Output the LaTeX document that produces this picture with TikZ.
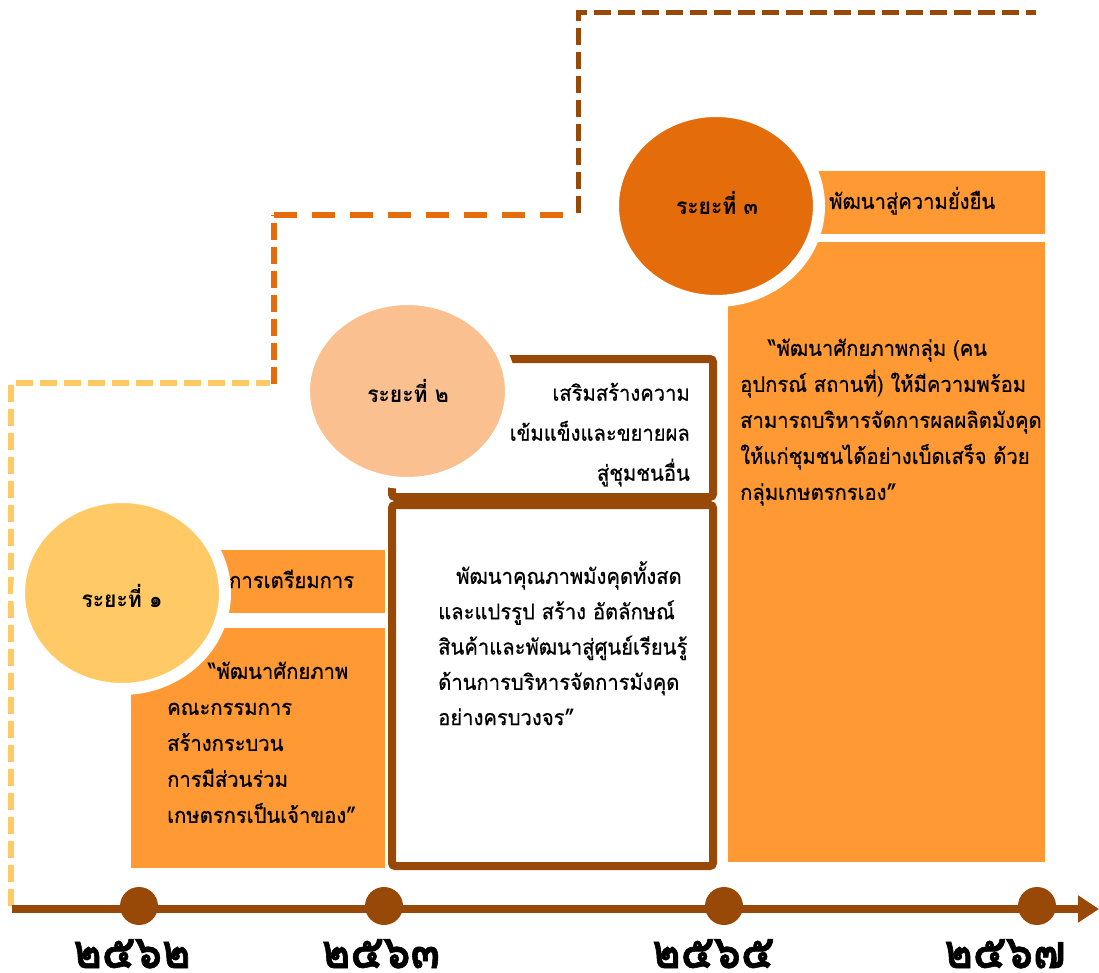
\documentclass[tikz,border=0pt]{standalone}
\usepackage{fontspec}
\newfontfamily\thai[Script=Thai, FakeStretch=0.94, FakeBold=0.6]{Loma}
\newfontfamily\thaib[Script=Thai, FakeStretch=0.94]{Loma Bold}
\newfontfamily\thaiy[Script=Thai, FakeStretch=0.92, FakeBold=1.2]{Loma Bold}
\usetikzlibrary{shapes.geometric,arrows.meta}
\definecolor{cYel}{HTML}{FFC966}
\definecolor{cPeach}{HTML}{FAC090}
\definecolor{cDark}{HTML}{E46C0A}
\definecolor{cBox}{HTML}{FF9933}
\definecolor{cBrown}{HTML}{984807}
\tikzset{
  phase/.style={ellipse, inner sep=0pt, draw=white, line width=12pt},
  obox/.style={fill=cBox, draw=none, inner sep=0pt, anchor=north west},
  frame/.style={draw=cBrown, line width=8pt, fill=white, rounded corners=3pt},
  para/.style={font=\thai\fontsize{21.5}{36}\selectfont, inner sep=0pt, align=left, anchor=north west},
  one/.style={font=\thai\fontsize{21.5}{24}\selectfont, inner sep=0pt, anchor=base west},
  lbl/.style={font=\thaib\fontsize{22.5}{26}\selectfont, inner sep=0pt, anchor=base},
  year/.style={font=\thaiy\fontsize{47}{50}\selectfont, inner sep=0pt, text depth=0pt, anchor=base},
  dot/.style={ellipse, fill=cBrown, minimum width=38pt, minimum height=38pt, inner sep=0pt},
  dashA/.style={line width=5.5pt, dash pattern=on 17pt off 7pt},
  dashB/.style={line width=6pt, dash pattern=on 23pt off 15pt}
}
\begin{document}
\begin{tikzpicture}[x=1pt,y=-1pt]
\useasboundingbox (0,0) rectangle (1099,973);
% dashed staircase
\coordinate (ya) at (11,906);
\coordinate (yb) at (11,383);
\coordinate (yc) at (270,383);
\coordinate (oa) at (274,384);
\coordinate (ob) at (274,215);
\coordinate (oc) at (578,215);
\coordinate (ba) at (578,213);
\coordinate (bb) at (578,13);
\coordinate (bc) at (1036,13);
\draw[cYel, dashA] (ya) -- (yb) -- (yc);
\draw[cDark, dashA] (oa) -- (ob);
\draw[cDark, dashB] (ob) -- (oc);
\draw[cBrown, dashA, line width=5pt] (ba) -- (bb) -- (bc);
% time axis
\coordinate (ax0) at (12,909);
\coordinate (ax1) at (1099,909);
\draw[cBrown, line width=8pt, -{Triangle[length=21pt,width=26pt]}] (ax0) -- (ax1);
\node[dot] (d1) at (139,906) {};
\node[dot] (d2) at (384,906) {};
\node[dot] (d3) at (724,906) {};
\node[dot] (d4) at (1037,906) {};
\node[year] (y1) at (132,968) {๒๕๖๒};
\node[year] (y2) at (381,968) {๒๕๖๓};
\node[year] (y3) at (713,968) {๒๕๖๕};
\node[year] (y4) at (1005,968) {๒๕๖๗};
% phase 1
\node[obox, minimum width=167pt, minimum height=63pt] (b1a) at (218,550) {};
\node[obox, minimum width=254pt, minimum height=240pt] (b1b) at (131,628) {};
\node[phase, fill=cYel, minimum width=206pt, minimum height=192pt] (c1) at (122,593) {};
\node[lbl] (l1) at (122,607) {ระยะที่ ๑};
\node[one] (t1a) at (229,588) {การเตรียมการ};
\node[para] (t1b) at (167,653.5) {\strut\hspace*{41pt}“พัฒนาศักยภาพ\\คณะกรรมการ\\สร้างกระบวน\\การมีส่วนร่วม\\เกษตรกรเป็นเจ้าของ”};
% phase 2
\draw[frame] (392,359) rectangle (713,497);
\draw[frame] (392,505) rectangle (713,866);
\node[phase, fill=cPeach, minimum width=207pt, minimum height=184pt] (c2) at (407.5,391) {};
\node[lbl] (l2) at (408,402) {ระยะที่ ๒};
\node[para, align=right, anchor=north east, font=\thai\fontsize{21.5}{40}\selectfont] (t2a) at (690,372.5) {\strut เสริมสร้างความ\\เข้มแข็งและขยายผล\\สู่ชุมชนอื่น};
\node[para, font=\thai\fontsize{21.5}{35.3}\selectfont] (t2b) at (438,559) {\strut\hspace*{18pt}พัฒนาคุณภาพมังคุดทั้งสด\\และแปรรูป สร้าง อัตลักษณ์\\สินค้าและพัฒนาสู่ศูนย์เรียนรู้\\ด้านการบริหารจัดการมังคุด\\อย่างครบวงจร”};
% phase 3
\node[obox, minimum width=235pt, minimum height=63pt] (b3a) at (810,171) {};
\node[obox, minimum width=317pt, minimum height=620pt] (b3b) at (728,242) {};
\node[phase, fill=cDark, minimum width=206pt, minimum height=190pt] (c3) at (716,206) {};
\node[lbl] (l3) at (717,215) {ระยะที่ ๓};
\node[one] (t3a) at (829,209) {พัฒนาสู่ความยั่งยืน};
\node[para] (t3b) at (740,330.5) {\strut\hspace*{28pt}“พัฒนาศักยภาพกลุ่ม (คน\\อุปกรณ์ สถานที่) ให้มีความพร้อม\\สามารถบริหารจัดการผลผลิตมังคุด\\ให้แก่ชุมชนได้อย่างเบ็ดเสร็จ ด้วย\\กลุ่มเกษตรกรเอง”};
\end{tikzpicture}
\end{document}
